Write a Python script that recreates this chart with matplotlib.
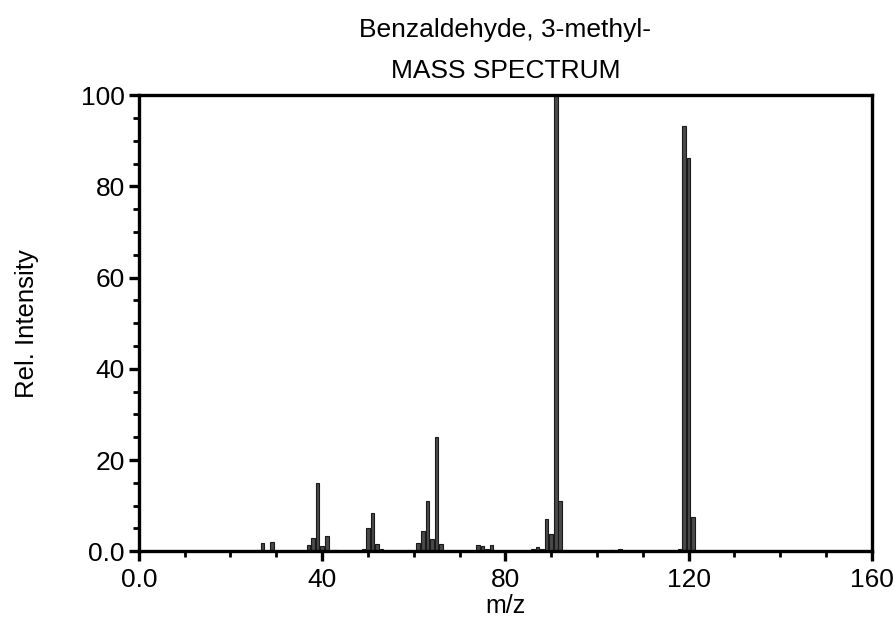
import matplotlib.pyplot as plt
from matplotlib.ticker import MultipleLocator

plt.rcParams['font.family'] = ['Liberation Sans', 'DejaVu Sans']

mz = [26, 27, 29, 37, 38, 39, 40, 41, 43, 49, 50, 51, 52, 53,
      59, 61, 62, 63, 64, 65, 66, 74, 75, 76, 77,
      86, 87, 88, 89, 90, 91, 92, 93, 103, 105, 118, 119, 120, 121]
intensity = [0.3, 1.7, 2.0, 1.4, 2.8, 15.0, 1.1, 3.3, 0.3, 0.6, 5.0, 8.3, 1.6, 0.6,
             0.2, 1.9, 4.4, 11.0, 2.6, 25.1, 1.6, 1.4, 1.1, 0.6, 1.4,
             0.5, 0.9, 0.5, 7.1, 3.7, 100.0, 11.0, 0.3, 0.3, 0.6, 0.4, 93.2, 86.3, 7.5]

fig = plt.figure(figsize=(8.96, 6.3), dpi=100)
ax = fig.add_axes([0.155, 0.125, 0.818, 0.724])

ax.bar(mz, intensity, width=0.8, color='#4a4a4a', edgecolor='#1a1a1a', linewidth=0.8)

ax.set_xlim(0, 160)
ax.set_ylim(0, 100)
ax.xaxis.set_major_locator(MultipleLocator(40))
ax.xaxis.set_minor_locator(MultipleLocator(10))
ax.yaxis.set_major_locator(MultipleLocator(20))
ax.yaxis.set_minor_locator(MultipleLocator(5))


def fmt(v, pos):
    return '0.0' if v == 0 else '%d' % v


ax.xaxis.set_major_formatter(fmt)
ax.yaxis.set_major_formatter(fmt)

for s in ax.spines.values():
    s.set_linewidth(2.4)
ax.tick_params(which='major', length=7, width=2.4, labelsize=19, pad=3)
ax.tick_params(axis='x', which='major', pad=5)
ax.tick_params(which='minor', length=4, width=2.0)

ax.set_xlabel('m/z', fontsize=18)
ax.set_ylabel('Rel. Intensity', fontsize=18.5)
ax.xaxis.set_label_coords(0.5, -0.121)
ax.yaxis.set_label_coords(-0.153, 0.5)
ax.xaxis.label.set_va('center')
ax.yaxis.label.set_va('center')

fig.text(0.564, 0.952, 'Benzaldehyde, 3-methyl-', ha='center', va='center', fontsize=19)
fig.text(0.564, 0.888, 'MASS SPECTRUM', ha='center', va='center', fontsize=19)

fig.savefig('out.png', dpi=100)
